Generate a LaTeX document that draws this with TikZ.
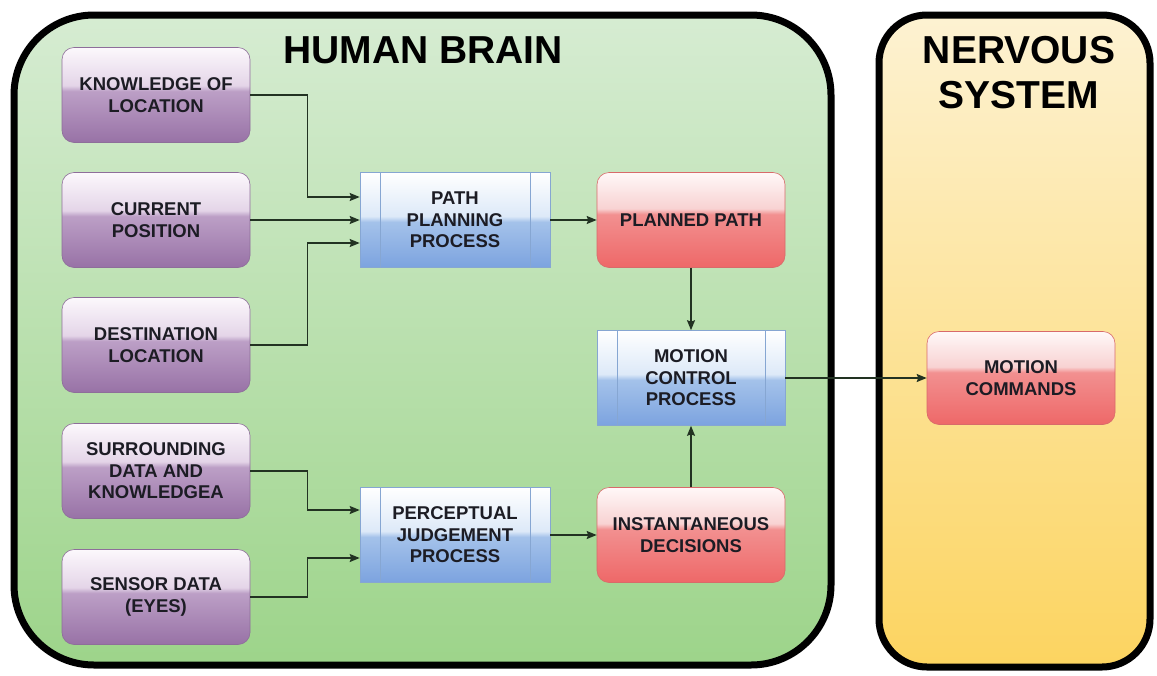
\documentclass[tikz,border=0pt]{standalone}
\usepackage{fontspec}
\setmainfont{Liberation Sans}
\usetikzlibrary{arrows.meta}
\definecolor{greenTop}{HTML}{D6ECD2}
\definecolor{greenBot}{HTML}{9DD48A}
\definecolor{yelTop}{HTML}{FDF2D2}
\definecolor{yelBot}{HTML}{FCD460}
\definecolor{pDark}{HTML}{9872A6}
\definecolor{pMid}{HTML}{BC9FC6}
\definecolor{pLight}{HTML}{E4D5E8}
\definecolor{pTop}{HTML}{FCF8FC}
\definecolor{pEdge}{HTML}{8E6E9A}
\definecolor{rDark}{HTML}{EE6868}
\definecolor{rMid}{HTML}{F29090}
\definecolor{rLight}{HTML}{F8D2D2}
\definecolor{rTop}{HTML}{FFF8F8}
\definecolor{rEdge}{HTML}{D86A6A}
\definecolor{bDark}{HTML}{7CA3DF}
\definecolor{bMid}{HTML}{A4C2EA}
\definecolor{bLight}{HTML}{DDE9F8}
\definecolor{bTop}{HTML}{FFFFFF}
\definecolor{bEdge}{HTML}{86A6D2}
\definecolor{txt}{HTML}{1C1C24}
\definecolor{lineC}{HTML}{223222}
\pgfdeclareverticalshading{purpsh}{100bp}{color(0bp)=(pDark); color(25bp)=(pDark); color(52bp)=(pMid); color(55bp)=(pLight); color(75bp)=(pTop); color(100bp)=(pTop)}
\pgfdeclareverticalshading{redsh}{100bp}{color(0bp)=(rDark); color(25bp)=(rDark); color(53bp)=(rMid); color(56bp)=(rLight); color(75bp)=(rTop); color(100bp)=(rTop)}
\pgfdeclareverticalshading{bluesh}{100bp}{color(0bp)=(bDark); color(25bp)=(bDark); color(49bp)=(bMid); color(52bp)=(bLight); color(75bp)=(bTop); color(100bp)=(bTop)}
\begin{document}
\begin{tikzpicture}[x=1pt,y=-1pt,
  boxtext/.style={font=\bfseries\fontsize{18.5}{21.5}\selectfont, text=txt, align=center},
  pbox/.style={boxtext, draw=pEdge, line width=0.6pt, shading=purpsh, rounded corners=12pt, minimum width=188pt, minimum height=95pt, inner sep=0pt},
  rbox/.style={boxtext, draw=rEdge, line width=0.6pt, shading=redsh, rounded corners=12pt, minimum width=188pt, minimum height=95pt, inner sep=0pt},
  bbox/.style={boxtext, draw=bEdge, line width=0.6pt, shading=bluesh, minimum width=190pt, minimum height=95pt, inner sep=0pt,
    path picture={\draw[bEdge, line width=0.6pt] ([xshift=20pt]path picture bounding box.north west) -- ([xshift=20pt]path picture bounding box.south west);
                  \draw[bEdge, line width=0.6pt] ([xshift=-20pt]path picture bounding box.north east) -- ([xshift=-20pt]path picture bounding box.south east);}},
  arr/.style={draw=lineC, line width=1.5pt, -{Stealth[length=10pt,width=8pt,inset=1.5pt]}},
  title/.style={font=\bfseries\fontsize{39}{45}\selectfont, text=black, align=center}
]
\useasboundingbox (0,0) rectangle (1157,675);
% containers
\draw[line width=7pt, rounded corners=80pt, top color=greenTop, bottom color=greenBot] (14,15) rectangle (831,665);
\draw[line width=7pt, rounded corners=48pt, top color=yelTop, bottom color=yelBot] (879,15) rectangle (1150,667);
\node[title] (hb) at (423,50) {HUMAN BRAIN};
\node[title] (ns) at (1019,73) {NERVOUS\\SYSTEM};
% inputs
\node[pbox] (know) at (156,95) {KNOWLEDGE OF\\LOCATION};
\node[pbox] (curr) at (156,220) {CURRENT\\POSITION};
\node[pbox] (dest) at (156,345) {DESTINATION\\LOCATION};
\node[pbox] (surr) at (156,471) {SURROUNDING\\DATA AND\\KNOWLEDGEA};
\node[pbox] (sens) at (156,597) {SENSOR DATA\\(EYES)};
% processes
\node[bbox] (ppp) at (455,220) {PATH\\PLANNING\\PROCESS};
\node[bbox] (pjp) at (455,535) {PERCEPTUAL\\JUDGEMENT\\PROCESS};
\node[bbox, minimum width=188pt] (mcp) at (691,378) {MOTION\\CONTROL\\PROCESS};
% outputs
\node[rbox] (plan) at (691,220) {PLANNED PATH};
\node[rbox] (inst) at (691,535) {INSTANTANEOUS\\DECISIONS};
\node[rbox, minimum height=93pt] (cmd) at (1021,378) {MOTION\\COMMANDS};
% connectors
\draw[arr] (know.east) -- ++(57,0) |- ([yshift=23pt]ppp.west);
\draw[arr] (curr.east) -- (ppp.west);
\draw[arr] (dest.east) -- ++(57,0) |- ([yshift=-23pt]ppp.west);
\draw[arr] (surr.east) -- ++(57,0) |- ([yshift=25pt]pjp.west);
\draw[arr] (sens.east) -- ++(57,0) |- ([yshift=-23pt]pjp.west);
\draw[arr] (ppp.east) -- (plan.west);
\draw[arr] (pjp.east) -- (inst.west);
\draw[arr] (plan.south) -- (mcp.north);
\draw[arr] (inst.north) -- (mcp.south);
\draw[arr] (mcp.east) -- (cmd.west);
\end{tikzpicture}
\end{document}
